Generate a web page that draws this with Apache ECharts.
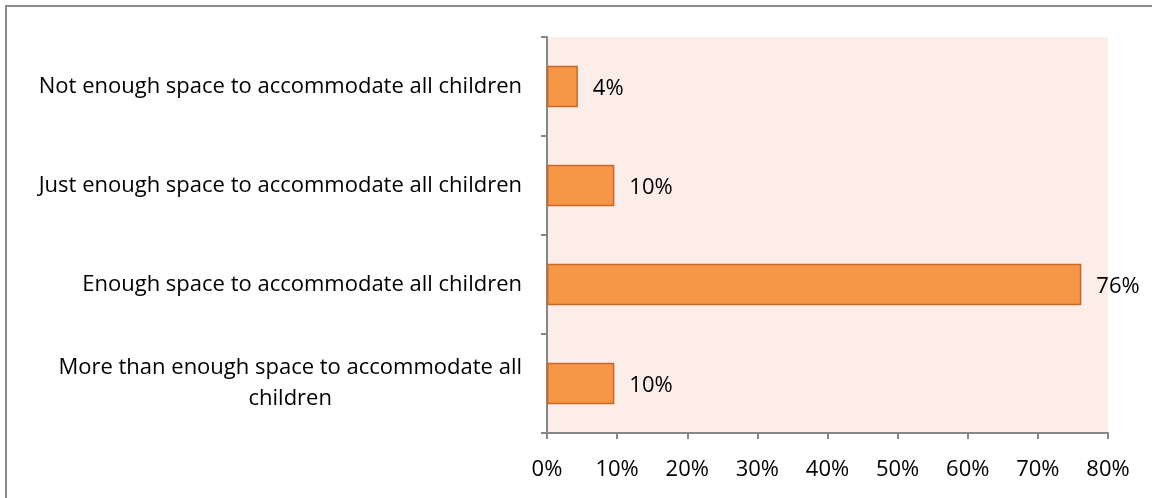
<!DOCTYPE html>
<html><head><meta charset="utf-8">
<script src="https://cdn.jsdelivr.net/npm/echarts@6/dist/echarts.min.js"></script>
<style>html,body{margin:0;padding:0;background:#fff}#c{width:1152px;height:498px}</style>
</head><body><div id="c"></div>
<script>
const categories = [
  "Not enough space to accommodate all children",
  "Just enough space to accommodate all children",
  "Enough space to accommodate all children",
  "More than enough space to accommodate all\nchildren"
];
const values = [4.4, 9.6, 76.2, 9.6];
const valueLabels = ["4%", "10%", "76%", "10%"];
const xTicks = [0, 10, 20, 30, 40, 50, 60, 70, 80];

const FONT = "Open Sans";
const FS = 22;
const cv = document.createElement('canvas').getContext('2d');
cv.font = FS + "px '" + FONT + "'";

const catData = categories.map(c => {
  const lines = c.split("\n");
  if (lines.length > 1) {
    const w = Math.max(...lines.map(l => cv.measureText(l).width));
    return {value: c, textStyle: {align: 'center', padding: [0, w, 0, 0]}};
  }
  return c;
});

const chart = echarts.init(document.getElementById('c'));
chart.setOption({
  animation: false,
  textStyle: {fontFamily: FONT},
  graphic: [{type: 'rect', shape: {x: 6, y: 6, width: 1160, height: 510},
    style: {fill: 'none', stroke: '#8c8c8c', lineWidth: 2}, z: -1}],
  grid: {left: 547, right: 44, top: 37, bottom: 65, show: true,
    backgroundColor: '#FCEDE8', borderWidth: 0},
  xAxis: {type: 'value', min: xTicks[0], max: xTicks[xTicks.length-1], interval: 10,
    axisLine: {show: true, lineStyle: {color: '#868686', width: 2}},
    axisTick: {show: true, length: 6, lineStyle: {color: '#868686', width: 2}},
    splitLine: {show: false},
    axisLabel: {formatter: '{value}%', color: '#000', fontSize: FS, fontFamily: FONT, margin: 26}},
  yAxis: {type: 'category', inverse: true, data: catData,
    axisLine: {show: true, lineStyle: {color: '#868686', width: 2}},
    axisTick: {show: true, length: 6, alignWithLabel: false, lineStyle: {color: '#868686', width: 2}},
    axisLabel: {color: '#000', fontSize: FS, fontFamily: FONT, margin: 25, lineHeight: 31}},
  series: [{type: 'bar', data: values, barWidth: '42%',
    itemStyle: {color: '#F79646', borderColor: '#C8692A', borderWidth: 1.5},
    label: {show: true, position: 'right', distance: 15, color: '#000', fontSize: FS, fontFamily: FONT,
      offset: [0, 2], formatter: p => valueLabels[p.dataIndex]}}]
});
</script></body></html>
